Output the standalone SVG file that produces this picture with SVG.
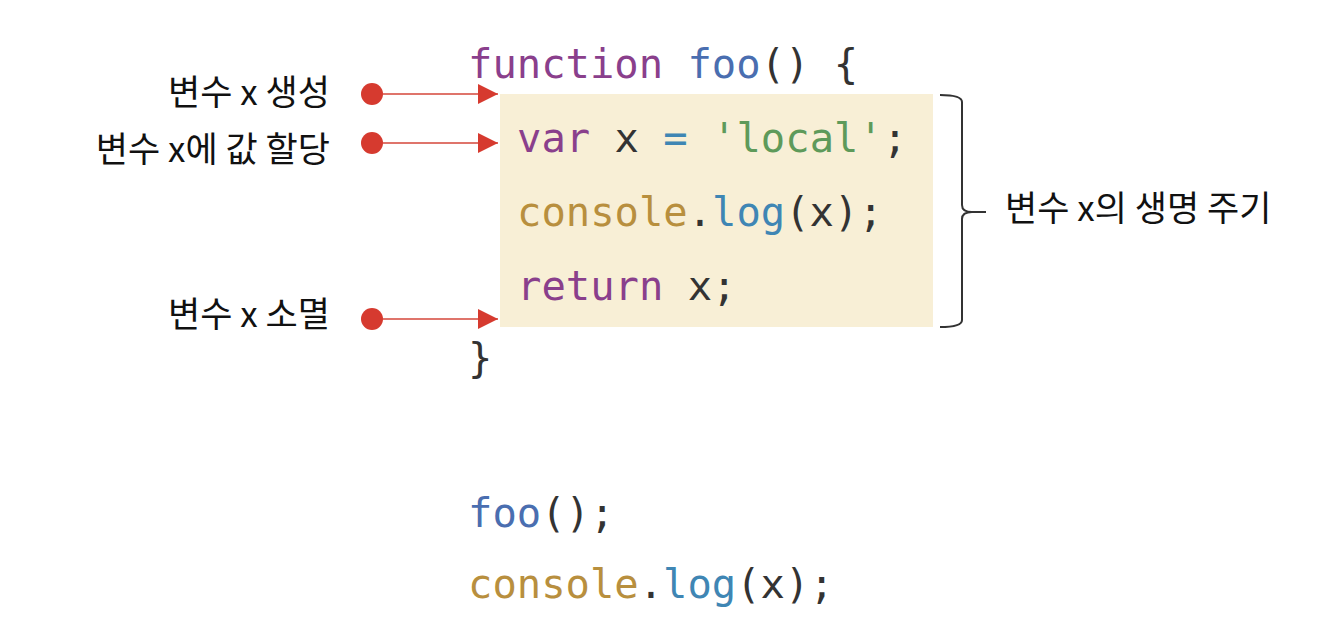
<svg xmlns="http://www.w3.org/2000/svg" width="1336" height="628" viewBox="0 0 1336 628">
<style>
.code{font-family:"DejaVu Sans Mono","Liberation Mono",monospace;font-size:40.5px;fill:#333}
.kw{fill:#8a3f8c}.fn{fill:#4a6eb0}.str{fill:#5e9a5a}.obj{fill:#b88f3e}.mth{fill:#3f86b4}.op{fill:#3f86b4}
.lbl{font-family:"Noto Sans CJK KR","Noto Sans",sans-serif;font-size:35px;font-weight:400;fill:#111}
.conn{stroke:#d4463a;stroke-width:1.5;fill:none}
.dot{fill:#d63a2f}
</style>
<defs>
<marker id="ah" viewBox="0 0 10 10" refX="10" refY="5" markerWidth="20" markerHeight="20" markerUnits="userSpaceOnUse" orient="auto">
<path d="M0,0 L10,5 L0,10 Z" fill="#d63a2f"/>
</marker>
</defs>
<rect width="1336" height="628" fill="#ffffff"/>
<g id="scope">
<rect x="500" y="94" width="433" height="233" fill="#f8efd6"/>
</g>
<g id="code">
<text class="code" x="468" y="78"><tspan class="kw">function</tspan> <tspan class="fn">foo</tspan>() {</text>
<text class="code" x="517" y="152"><tspan class="kw">var</tspan> x <tspan class="op">=</tspan> <tspan class="str">'local'</tspan>;</text>
<text class="code" x="517" y="226"><tspan class="obj">console</tspan>.<tspan class="mth">log</tspan>(x);</text>
<text class="code" x="517" y="300"><tspan class="kw">return</tspan> x;</text>
<text class="code" x="468" y="372">}</text>
<text class="code" x="468" y="527"><tspan class="fn">foo</tspan>();</text>
<text class="code" x="468" y="598"><tspan class="obj">console</tspan>.<tspan class="mth">log</tspan>(x);</text>
</g>
<g id="label-create">
<text class="lbl" x="330" y="105" text-anchor="end">변수 x 생성</text>
<circle class="dot" cx="372" cy="94" r="11"/>
</g>
<g id="label-assign">
<text class="lbl" x="330" y="162" text-anchor="end">변수 x에 값 할당</text>
<circle class="dot" cx="372" cy="143" r="11"/>
</g>
<g id="label-destroy">
<text class="lbl" x="330" y="327" text-anchor="end">변수 x 소멸</text>
<circle class="dot" cx="372" cy="319" r="11"/>
</g>
<g id="label-lifecycle">
<path d="M940,95 Q962,95 962,102 L962,205 Q962,212 972,212 L986,212 M972,212 Q962,212 962,219 L962,320 Q962,327 940,327" fill="none" stroke="#333" stroke-width="2"/>
<text class="lbl" x="1005" y="221">변수 x의 생명 주기</text>
</g>
<g id="connectors">
<line class="conn" x1="383" y1="94" x2="498" y2="94" marker-end="url(#ah)"/>
<line class="conn" x1="383" y1="143" x2="498" y2="143" marker-end="url(#ah)"/>
<line class="conn" x1="383" y1="319" x2="498" y2="319" marker-end="url(#ah)"/>
</g>
</svg>
